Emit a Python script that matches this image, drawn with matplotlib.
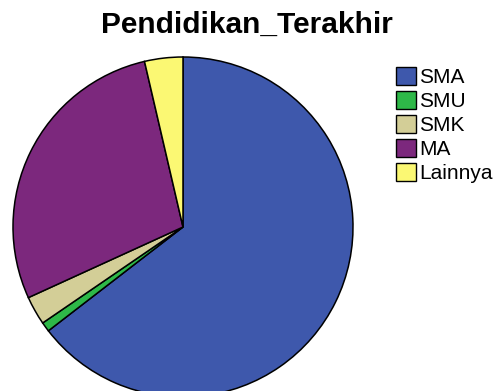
import matplotlib.pyplot as plt
from matplotlib.patches import Patch

# Data
labels = ['SMA', 'SMU', 'SMK', 'MA', 'Lainnya']
counts = [71, 1, 3, 31, 4]
colors = ['#3e58ac', '#2eb848', '#d3ce97', '#7c287d', '#fbf873']

plt.rcParams['font.family'] = ['Liberation Sans', 'DejaVu Sans']

fig = plt.figure(figsize=(4.97, 3.91), dpi=100)

# pie area: centre (183, 227) px, radius 170 px
ax = fig.add_axes([13 / 497, -6 / 391, 340 / 497, 340 / 391])
wedges, _ = ax.pie(counts, colors=colors, startangle=90, counterclock=False,
                   wedgeprops=dict(edgecolor='black', linewidth=1.1))
for w in wedges:
    w.set_clip_on(False)
ax.set_xlim(-1, 1)
ax.set_ylim(-1, 1)
ax.set_aspect('equal')
ax.axis('off')

fig.text(247 / 497, 1 - 25 / 391, 'Pendidikan_Terakhir', ha='center', va='center',
         fontsize=21.5, fontweight='bold')

handles = [Patch(facecolor=c, edgecolor='black', linewidth=1.0) for c in colors]
fig.legend(handles, labels, loc='upper left', bbox_to_anchor=(396 / 497, 1 - 67 / 391),
           frameon=False, fontsize=15, handlelength=0.95, handleheight=0.95,
           handletextpad=0.15, labelspacing=0.18, borderpad=0, borderaxespad=0)

fig.savefig('out.png', dpi=100)
